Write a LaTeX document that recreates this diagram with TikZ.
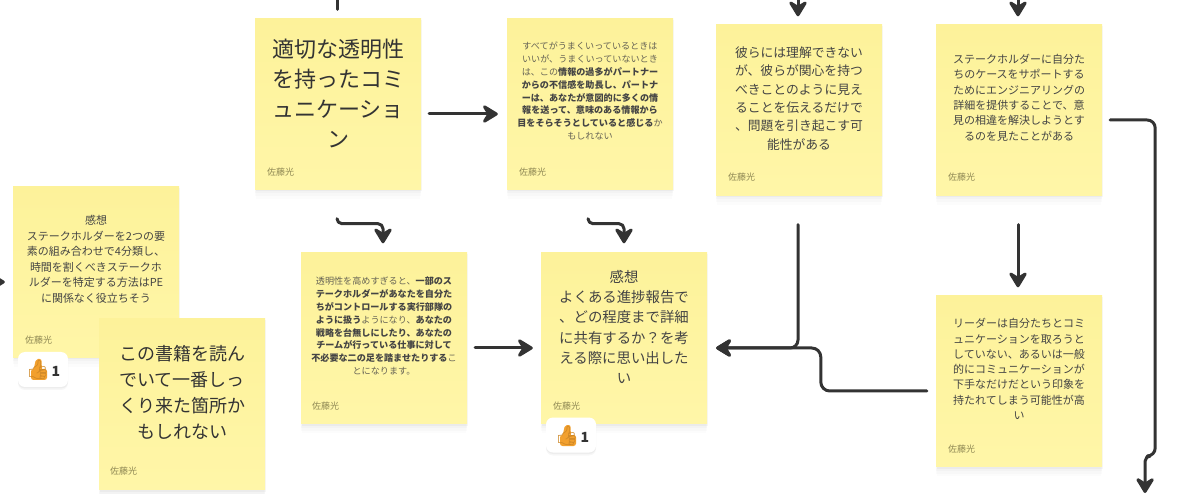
\documentclass[tikz,border=0pt]{standalone}
\usepackage{fontspec}
\setmainfont{Noto Sans CJK JP}
\newfontfamily\emojifont{Noto Emoji}
\usetikzlibrary{arrows.meta,shadows,calc}
\definecolor{ink}{HTML}{333333}
\definecolor{notetext}{HTML}{444444}
\definecolor{softtext}{HTML}{666355}
\definecolor{authorcol}{HTML}{8F8854}
\definecolor{notetop}{HTML}{FDF29A}
\definecolor{notebot}{HTML}{FFF6A8}
\definecolor{thumb}{HTML}{F2A02E}
\tikzset{
  softshadow/.style={
    general shadow={fill=black,fill opacity=.012,shadow xshift=0pt,shadow yshift=-10pt,shadow scale=.99},
    general shadow={fill=black,fill opacity=.015,shadow xshift=0pt,shadow yshift=-7pt},
    general shadow={fill=black,fill opacity=.02,shadow xshift=0pt,shadow yshift=-4pt},
    general shadow={fill=black,fill opacity=.03,shadow xshift=1pt,shadow yshift=-2pt}},
  sticky/.style={rectangle,minimum width=166pt,minimum height=171pt,inner sep=0pt,
    top color=notetop,bottom color=notebot,softshadow},
  body/.style={align=center,inner sep=0pt,text=notetext},
  author/.style={anchor=west,inner sep=0pt,text=authorcol,font=\fontsize{9}{11}\selectfont},
  conn/.style={draw=ink,line width=3pt,line cap=round,line join=round},
  arr/.style={conn,-{Stealth[round,length=19pt,width=23pt,inset=7pt]}},
  reaction/.style={rectangle,rounded corners=7pt,fill=white,minimum width=50pt,minimum height=35pt,inner sep=0pt,
    general shadow={fill=black,fill opacity=.03,shadow xshift=0pt,shadow yshift=-3pt},
    general shadow={fill=black,fill opacity=.04,shadow xshift=0pt,shadow yshift=-1.5pt}},
  emoji/.style={inner sep=0pt,text=thumb!85!black,font=\emojifont\fontsize{19}{21}\selectfont},
  count/.style={inner sep=0pt,text=ink,font=\bfseries\fontsize{14}{16}\selectfont}
}
\newcommand{\sz}[2]{\fontsize{#1}{#2}\selectfont}
\newcommand{\sft}[1]{\textcolor{softtext}{#1}}
\newcommand{\thumbfill}[1]{%
  \fill[thumb,rounded corners=2.5pt] ([shift={(-7,-1)}]#1.center) rectangle ([shift={(9,10)}]#1.center);
  \fill[thumb,rounded corners=2pt] ([shift={(-2,-11)}]#1.center) -- ([shift={(3.5,-11)}]#1.center) -- ([shift={(4,2)}]#1.center) -- ([shift={(-5,2)}]#1.center) -- cycle;}
\begin{document}
\begin{tikzpicture}[x=1pt,y=-1pt]
\path[use as bounding box,clip] (0,0) rectangle (1200,494);
\fill[white] (0,0) rectangle (1200,494);

\coordinate (topC) at (337,-20);
\coordinate (topE) at (798,-30);
\coordinate (topF) at (1018,-30);
\coordinate (leftA) at (-30,282);
\coordinate (offbottom) at (1145,493);

% left note, its reaction, then the note above it
\node[sticky] (A) at (96,272) {};
\node[body,font=\sz{11}{15.5}] (Atext) at (96,259.5) {感想\\ステークホルダーを2つの要\\素の組み合わせで4分類し、\\時間を割くべきステークホ\\ルダーを特定する方法はPE\\に関係なく役立ちそう};
\node[author] (Aauthor) at (25,340) {佐藤光};
\node[reaction] (Arx) at (43,369.5) {};
\coordinate (Athumbc) at (38,370);
\thumbfill{Athumbc}
\node[emoji] (Athumb) at (38,370) {👍};
\node[count] (Acount) at (56,371) {1};

\node[sticky] (B) at (182,404) {};
\node[body,text=ink,font=\sz{18}{26}] (Btext) at (182,392) {この書籍を読ん\\でいて一番しっ\\くり来た箇所か\\もしれない};
\node[author] (Bauthor) at (110,471) {佐藤光};

\node[sticky] (C) at (338,104) {};
\node[body,text=ink,font=\sz{22}{30}] (Ctext) at (338,93) {適切な透明性\\を持ったコミ\\ュニケーショ\\ン};
\node[author] (Cauthor) at (267,172) {佐藤光};

\node[sticky] (D) at (590,104) {};
\node[body,font=\sz{9.1}{12.9}] (Dtext) at (590,91) {\sft{すべてがうまくいっているときは}\\\sft{いいが、うまくいっていないとき}\\\sft{は、この}\textbf{情報の過多がパートナー}\\\textbf{からの不信感を助長し、パートナ}\\\textbf{ーは、あなたが意図的に多くの情}\\\textbf{報を送って、意味のある情報から}\\\textbf{目をそらそうとしていると感じる}\sft{か}\\\sft{もしれない}};
\node[author] (Dauthor) at (519,172) {佐藤光};

\node[sticky] (E) at (799,110) {};
\node[body,font=\sz{12.8}{18.4}] (Etext) at (799,98.5) {彼らには理解できない\\が、彼らが関心を持つ\\べきことのように見え\\ることを伝えるだけで\\、問題を引き起こす可\\能性がある};
\node[author] (Eauthor) at (728,177.5) {佐藤光};

\node[sticky] (F) at (1019,110) {};
\node[body,font=\sz{11}{15.4}] (Ftext) at (1019,97.5) {ステークホルダーに自分た\\ちのケースをサポートする\\ためにエンジニアリングの\\詳細を提供することで、意\\見の相違を解決しようとす\\るのを見たことがある};
\node[author] (Fauthor) at (948,177.5) {佐藤光};

\node[sticky] (G) at (384,338) {};
\node[body,font=\sz{9.1}{12.9}] (Gtext) at (384,326) {\sft{透明性を高めすぎると、}\textbf{一部のス}\\\textbf{テークホルダーがあなたを自分た}\\\textbf{ちがコントロールする実行部隊の}\\\textbf{ように扱う}\sft{ようになり、}\textbf{あなたの}\\\textbf{戦略を台無しにしたり、あなたの}\\\textbf{チームが行っている仕事に対して}\\\textbf{不必要な二の足を踏ませたりする}\sft{こ}\\\sft{とになります。}};
\node[author] (Gauthor) at (312,406) {佐藤光};

\node[sticky] (H) at (624,338) {};
\node[body,font=\sz{14.4}{20.2}] (Htext) at (624,327) {感想\\よくある進捗報告で\\、どの程度まで詳細\\に共有するか？を考\\える際に思い出した\\い};
\node[author] (Hauthor) at (553,406) {佐藤光};
\node[reaction] (Hrx) at (571,435) {};
\coordinate (Hthumbc) at (567,436);
\thumbfill{Hthumbc}
\node[emoji] (Hthumb) at (567,436) {👍};
\node[count] (Hcount) at (585,437) {1};

\node[sticky] (I) at (1019,381) {};
\node[body,font=\sz{11}{15.3}] (Itext) at (1019,369) {リーダーは自分たちとコミ\\ュニケーションを取ろうと\\していない、あるいは一般\\的にコミュニケーションが\\下手なだけだという印象を\\持たれてしまう可能性が高\\い};
\node[author] (Iauthor) at (948,449) {佐藤光};

% connectors
\draw[conn] (topC) -- ([shift={(-1,-9)}]C.north);
\draw[arr] (topE) -- ([shift={(-1,-8)}]E.north);
\draw[arr] (topF) -- ([shift={(-1,-8)}]F.north);
\draw[arr] (leftA) -- ([shift={(-8,10)}]A.west);
\draw[arr] ([shift={(8,10)}]C.east) -- ([shift={(-9,10)}]D.west);
\draw[arr,rounded corners=5pt] ([shift={(-1,29)}]C.south) -- ++(0,5) -| ([shift={(-1,-9)}]G.north);
\draw[arr,rounded corners=5pt] ([shift={(-2,29)}]D.south) -- ++(0,5) -| ([shift={(0,-9)}]H.north);
\draw[arr] ([shift={(8,10)}]G.east) -- ([shift={(-8,10)}]H.west);
\draw[arr,rounded corners=8pt] ([shift={(-1,29)}]E.south) |- ([shift={(9,10)}]H.east);
\draw[arr,rounded corners=9pt] ([shift={(-9,10)}]I.west) -- ++(-106,0) -- ++(0,-43) -- ([shift={(9,10)}]H.east);
\draw[arr] ([shift={(-1,29)}]F.south) -- ([shift={(-1,-8)}]I.north);
\draw[arr,rounded corners=8pt] ([shift={(8,10)}]F.east) -- ++(45,0) -- ++(0,336)
  [rounded corners=5pt] -- ++(-10,0) -- (offbottom);
\end{tikzpicture}
\end{document}
